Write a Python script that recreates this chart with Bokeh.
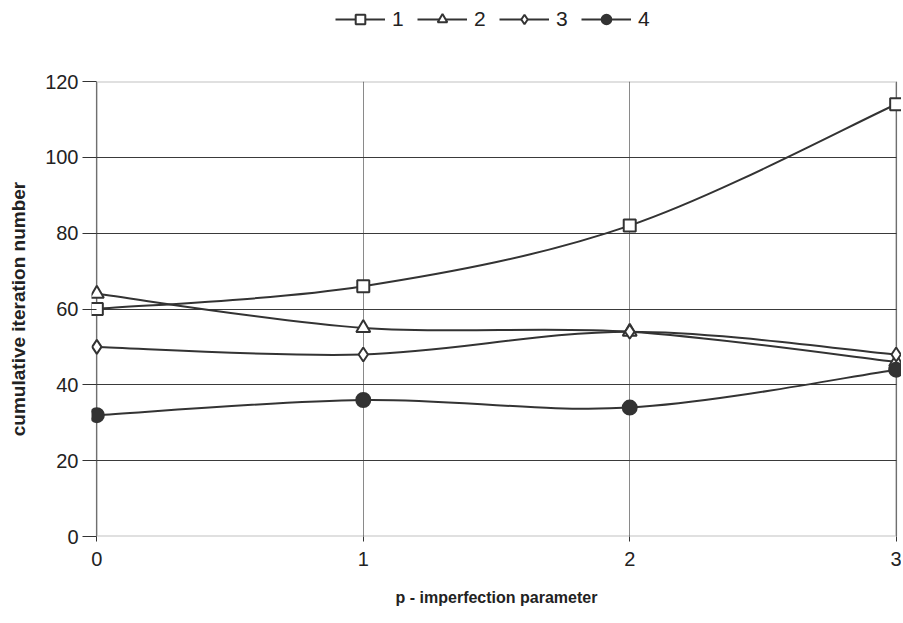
import numpy as np
from bokeh.plotting import figure
from bokeh.layouts import column
from bokeh.models import Range1d, Legend, LegendItem, BoxAnnotation, FixedTicker
from bokeh.embed import file_html
from bokeh.resources import INLINE

# ---- data ----
x_vals = [0, 1, 2, 3]
series_names = ["1", "2", "3", "4"]
s1 = [60, 66, 82, 114]
s2 = [64, 55, 54, 46]
s3 = [50, 48, 54, 48]
s4 = [32, 36, 34, 44]
x_ticks = [0, 1, 2, 3]
y_ticks = [0, 20, 40, 60, 80, 100, 120]
markers = ["square", "triangle", "diamond", "circle"]
marker_sizes = [12, 14, 14, 14]
x_title = "p - imperfection parameter"
y_title = "cumulative iteration number"

INK = "#333333"
FONT = "Liberation Sans"
W = 901
LEG_H = 40


def smooth_segments(xs, ys):
    """Bezier control points (Excel-style smoothing) for each segment."""
    xs = np.asarray(xs, float)
    ys = np.asarray(ys, float)
    xp = np.concatenate([[xs[0]], xs, [xs[-1]]])
    yp = np.concatenate([[ys[0]], ys, [ys[-1]]])
    seg = dict(x0=[], y0=[], x1=[], y1=[], cx0=[], cy0=[], cx1=[], cy1=[])
    for i in range(len(xs) - 1):
        seg["x0"].append(xp[i + 1]); seg["y0"].append(yp[i + 1])
        seg["x1"].append(xp[i + 2]); seg["y1"].append(yp[i + 2])
        seg["cx0"].append(xp[i + 1] + (xp[i + 2] - xp[i]) / 6)
        seg["cy0"].append(yp[i + 1] + (yp[i + 2] - yp[i]) / 6)
        seg["cx1"].append(xp[i + 2] - (xp[i + 3] - xp[i + 1]) / 6)
        seg["cy1"].append(yp[i + 2] - (yp[i + 3] - yp[i + 1]) / 6)
    return seg


p = figure(width=W, height=621 - LEG_H, output_backend="svg", toolbar_location=None,
           x_range=Range1d(-0.02, 3.02), y_range=Range1d(y_ticks[0], y_ticks[-1]),
           min_border_left=91, min_border_right=0, min_border_top=81 - LEG_H,
           min_border_bottom=85)
p.outline_line_color = None
p.background_fill_color = "white"
p.border_fill_color = "white"

# grid
p.ygrid.ticker = FixedTicker(ticks=y_ticks)
p.xgrid.ticker = FixedTicker(ticks=x_ticks)
p.ygrid.grid_line_color = "#3a3a3a"
p.ygrid.grid_line_width = 1
p.xgrid.grid_line_color = "#8a8a8a"
p.xgrid.grid_line_width = 1
p.ygrid.cross_bounds = (x_ticks[0], x_ticks[-1])
p.xgrid.cross_bounds = (y_ticks[0], y_ticks[-1])

# frame box
p.add_layout(BoxAnnotation(left=x_ticks[0], right=x_ticks[-1], bottom=y_ticks[0], top=y_ticks[-1],
                           fill_alpha=0, line_color=INK, line_width=2, level="underlay"))

# axes
p.xaxis.ticker = FixedTicker(ticks=x_ticks)
p.yaxis.ticker = FixedTicker(ticks=y_ticks)
for ax in (p.xaxis[0], p.yaxis[0]):
    ax.axis_line_color = None
    ax.major_tick_line_color = INK
    ax.major_tick_line_width = 1
    ax.minor_tick_line_color = None
    ax.major_label_text_font = FONT
    ax.major_label_text_font_size = "20px"
    ax.major_label_text_color = "#222222"
    ax.axis_label_text_font = FONT
    ax.axis_label_text_font_style = "bold"
    ax.axis_label_text_color = "#222222"
p.yaxis.major_tick_in = 5
p.yaxis.major_tick_out = 9
p.yaxis.major_label_standoff = 4
p.yaxis.axis_label = y_title
p.yaxis.axis_label_text_font_size = "19px"
p.yaxis.axis_label_standoff = 13
p.xaxis.major_tick_in = 0
p.xaxis.major_tick_out = 5
p.xaxis.major_label_standoff = 10
p.xaxis.axis_label = x_title
p.xaxis.axis_label_text_font_size = "16px"
p.xaxis.axis_label_standoff = 20

# legend strip (separate figure above the chart); its ranges lie away from the data,
# so its proxy renderers only show up as legend glyphs
lg = figure(width=W, height=LEG_H, output_backend="svg", toolbar_location=None,
            x_range=Range1d(-20, -10), y_range=Range1d(-20, -10),
            x_axis_location=None, y_axis_location=None,
            min_border_left=0, min_border_right=0, min_border_top=0, min_border_bottom=0)
lg.grid.visible = False
lg.outline_line_color = None
lg.background_fill_color = "white"
lg.border_fill_color = "white"

items = []
for name, ys, mk, sz in zip(series_names, [s1, s2, s3, s4], markers, marker_sizes):
    seg = smooth_segments(x_vals, ys)
    fill = INK if mk == "circle" else "white"
    p.bezier(line_color=INK, line_width=2, **seg)
    p.scatter(x_vals, ys, marker=mk, size=sz, line_color=INK, line_width=2, fill_color=fill)
    l_line = lg.line(x=x_vals, y=ys, line_color=INK, line_width=2)
    l_pt = lg.scatter(x=x_vals, y=ys, marker=mk, line_color=INK, line_width=2, fill_color=fill)
    items.append(LegendItem(label=name, renderers=[l_line, l_pt]))

legend = Legend(items=items, orientation="horizontal", location=(244, 9),
                label_text_font=FONT, label_text_font_size="21px", label_text_color="#222222",
                glyph_width=50, glyph_height=24, label_standoff=7, label_width=12, spacing=13,
                padding=0, margin=0, border_line_color=None, background_fill_alpha=0)
lg.add_layout(legend, "center")

layout = column(lg, p, spacing=0)
open("out.html", "w").write(file_html(layout, INLINE))
